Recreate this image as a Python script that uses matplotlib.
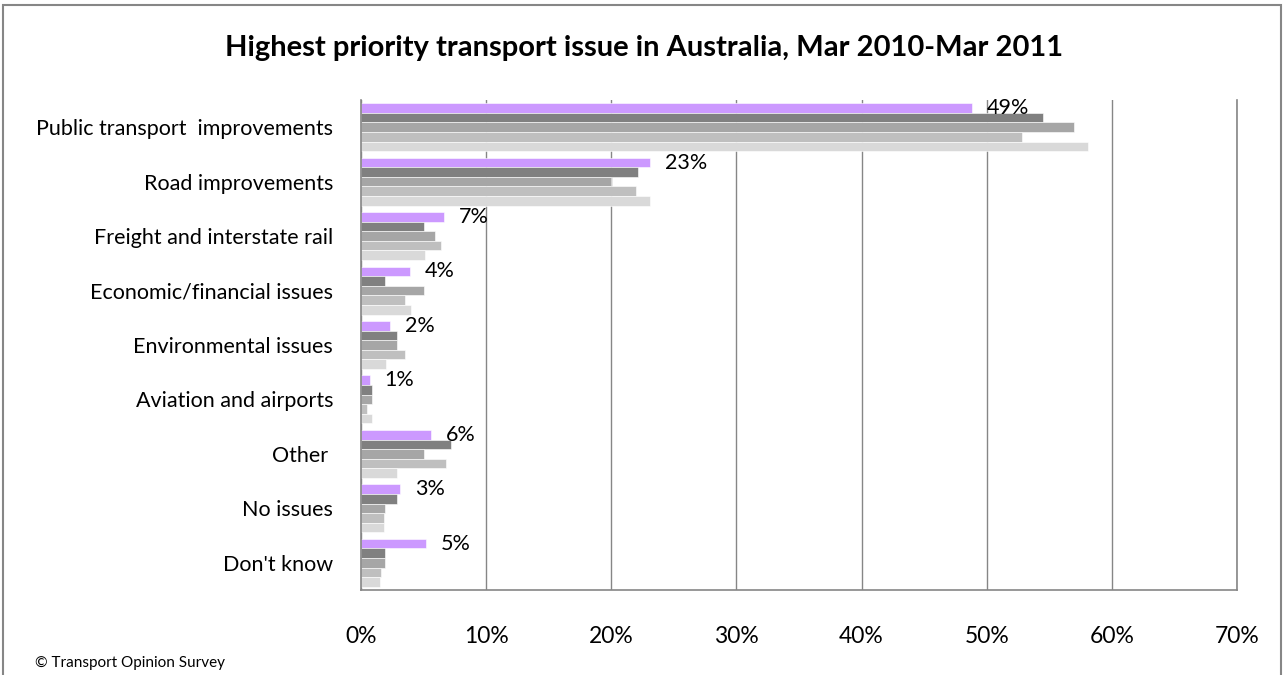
import numpy as np
import matplotlib
matplotlib.use('Agg')
from matplotlib import pyplot as plt
from matplotlib.patches import Rectangle

# categories, top to bottom
issues = ['Public transport  improvements', 'Road improvements', 'Freight and interstate rail',
          'Economic/financial issues', 'Environmental issues', 'Aviation and airports',
          'Other ', 'No issues', "Don't know"]

# survey waves, newest first (purple = latest)
waves = ['Mar 2011', 'Dec 2010', 'Sep 2010', 'Jun 2010', 'Mar 2010']
mar11 = [48.8, 23.1, 6.6, 3.9, 2.3, 0.7, 5.6, 3.1, 5.2]
dec10 = [54.5, 22.1, 5.0, 1.9, 2.9, 0.85, 7.2, 2.9, 1.9]
sep10 = [57.0, 20.0, 5.9, 5.0, 2.9, 0.85, 5.0, 1.9, 1.9]
jun10 = [52.8, 22.0, 6.4, 3.5, 3.5, 0.5, 6.8, 1.8, 1.6]
mar10 = [58.1, 23.1, 5.1, 4.0, 2.0, 0.85, 2.9, 1.8, 1.5]
colours = ['#CC99FF', '#808080', '#A6A6A6', '#BFBFBF', '#D9D9D9']

xticks = [0, 10, 20, 30, 40, 50, 60, 70]

plt.rcParams['font.family'] = ['Lato', 'DejaVu Sans']

fig = plt.figure(figsize=(12.88, 6.75), dpi=100)
ax = fig.add_axes([361/1288, 1 - 590/675, 876/1288, 490/675])

series = [mar11, dec10, sep10, jun10, mar10]
y = np.arange(len(issues))
h = 0.176
for i, vals in enumerate(series):
    off = (i - 2) * h
    ax.barh(y + off, vals, height=h, color=colours[i], edgecolor='white', linewidth=0.4,
            label=waves[i], zorder=2)

# labels for the latest wave
for yi, v in zip(y, mar11):
    ax.text(v + 1.2, yi - 2 * h, '%d%%' % round(v), ha='left', va='center', fontsize=15.5)

ax.set_xlim(0, 70)
ax.set_ylim(len(issues) - 0.5, -0.5)
ax.set_xticks(xticks)
ax.set_xticklabels(['%d%%' % t for t in xticks])
ax.set_yticks(y)
ax.set_yticklabels(issues)
ax.tick_params(axis='x', length=0, pad=26, labelsize=16.5)
ax.tick_params(axis='y', length=0, pad=20, labelsize=15.5)
ax.grid(axis='x', color='#868686', linewidth=1, zorder=1)
ax.axvline(70, color='#868686', linewidth=1.2, clip_on=False, zorder=1)
for s in ['top', 'right']:
    ax.spines[s].set_visible(False)
for s in ['left', 'bottom']:
    ax.spines[s].set_color('#868686')
    ax.spines[s].set_linewidth(1.2)

fig.text(0.5, 1 - 48/675, 'Highest priority transport issue in Australia, Mar 2010-Mar 2011',
         ha='center', va='center', fontsize=21, fontweight='bold')
fig.text(35/1288, 1 - 663/675, '\u00a9 Transport Opinion Survey', ha='left', va='center', fontsize=11)

fig.patches.append(Rectangle((3/1288, -0.05), 1278/1288, 1.05 - 5/675, transform=fig.transFigure,
                             fill=False, edgecolor='#868686', linewidth=1.5))

fig.savefig('out.png', dpi=100)
